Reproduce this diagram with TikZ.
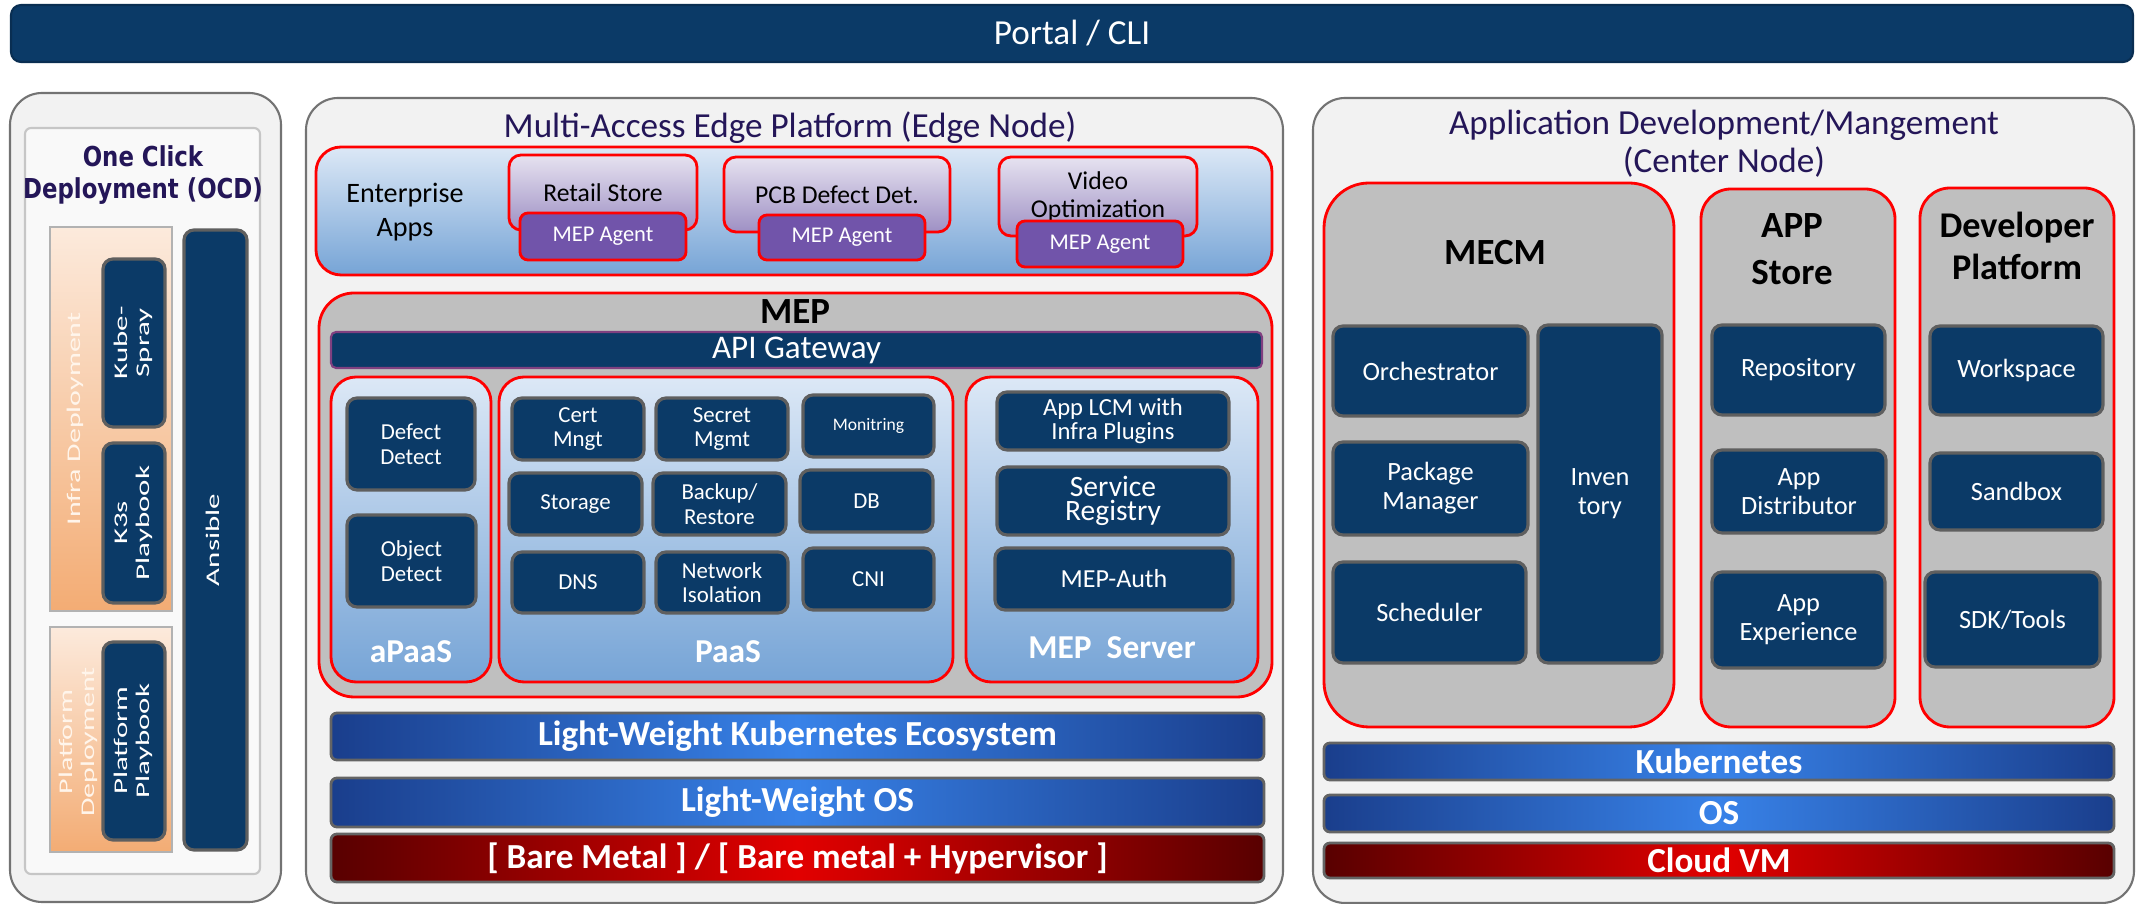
\documentclass[tikz,border=0pt]{standalone}
\usepackage{fontspec}
\setmainfont{Carlito}
\newfontfamily\verdfont{DejaVu Sans}

\definecolor{navy}{RGB}{11,58,103}
\definecolor{boxrim}{RGB}{95,95,95}
\definecolor{panelgray}{RGB}{242,242,242}
\definecolor{panelline}{RGB}{115,115,115}
\definecolor{mecgray}{RGB}{191,191,191}
\definecolor{ttlpurple}{RGB}{36,22,88}
\definecolor{skytop}{RGB}{220,232,246}
\definecolor{skybot}{RGB}{118,164,214}
\definecolor{liltop}{RGB}{230,226,240}
\definecolor{lilbot}{RGB}{158,144,196}
\definecolor{agent}{RGB}{113,84,170}
\definecolor{barout}{RGB}{26,62,140}
\definecolor{barmid}{RGB}{56,130,232}
\definecolor{barrim}{RGB}{100,100,100}
\definecolor{redout}{RGB}{88,0,0}
\definecolor{redmid}{RGB}{226,0,0}
\definecolor{peachtop}{RGB}{252,234,220}
\definecolor{peachbot}{RGB}{243,172,116}

\newcommand\fsz[2]{\fontsize{#1}{#2}\selectfont}
\newcommand\stretchx[2]{\scalebox{#1}[1]{\begin{tabular}{@{}c@{}}#2\end{tabular}}}
% box from its corners: style, name, x1, y1, x2, y2, text
\newcommand\blk[7]{%
  \node[#1,minimum width={(#5-#3)*0.01cm},minimum height={(#6-#4)*0.01cm}]
    (#2) at ({(#3+#5)/2},{(#4+#6)/2}) {#7};}

\tikzset{
  panel/.style={draw=panelline,fill=panelgray,line width=0.6pt,rounded corners=0.32cm},
  portal/.style={draw=navy!80!black,fill=navy,line width=0.6pt,rounded corners=0.1cm,text=white,font=\fsz{10}{12}},
  navybox/.style={fill=navy,draw=boxrim,line width=0.9pt,rounded corners=0.1cm,text=white,align=center,font=\fsz{6.5}{7}},
  navybig/.style={navybox,font=\fsz{7.5}{8.2}},
  skybox/.style={draw=red,line width=0.8pt,top color=skytop,bottom color=skybot,rounded corners=0.25cm},
  greybox/.style={draw=red,line width=0.8pt,fill=mecgray,rounded corners=#1},
  appbox/.style={draw=red,line width=0.8pt,top color=liltop,bottom color=lilbot,rounded corners=0.12cm,align=center,font=\fsz{7.3}{8}},
  agentbox/.style={draw=red,line width=0.8pt,fill=agent,rounded corners=0.08cm,text=white,font=\fsz{6.4}{7}},
  gatebar/.style={draw=violet!50!gray,line width=0.6pt,fill=navy,rounded corners=0.05cm,text=white,font=\fsz{9.4}{11}},
  layer/.style 2 args={draw=barrim,line width=0.8pt,left color=#1,right color=#1,middle color=#2,rounded corners=0.06cm,text=white,font=\fsz{10}{12}\bfseries},
  peachbox/.style={draw=gray!60,line width=0.5pt,top color=peachtop,bottom color=peachbot},
  ocdinner/.style={draw=gray!45,line width=0.6pt,fill=white!55!panelgray,rounded corners=0.06cm},
  ttl/.style={text=ttlpurple,align=center,font=\fsz{10}{10.8}},
  hdr/.style={text=black,align=center,font=\fsz{10.5}{13.4}\bfseries},
  sublbl/.style={text=white,font=\fsz{9.5}{11}\bfseries},
  sidetxt/.style={text=white,rotate=90,font=\fsz{5.5}{6.2}},
}

\begin{document}
\begin{tikzpicture}[x=0.01cm,y=-0.01cm,every node/.style={inner sep=0pt,outer sep=0pt}]
\useasboundingbox (0,0) rectangle (2141,904);

\blk{portal}{portal}{11}{5}{2133}{62}{Portal / CLI}

% one click deployment
\blk{panel}{ocdpanel}{10}{93}{281}{902}{}
\blk{ocdinner}{ocd}{25}{128}{260}{874}{}
\node[text=ttlpurple,font=\verdfont\fsz{6.5}{7.6}\bfseries] (ocdtitle) at (143,176)
  {\scalebox{1}[1.2]{\begin{tabular}{@{}c@{}}One Click\\Deployment (OCD)\end{tabular}}};
\blk{peachbox}{infra}{50}{227}{172}{611}{}
\blk{peachbox}{pfdep}{50}{627}{172}{852}{}
\node[sidetxt,text=white!92!orange] (infralbl) at (76,419) {\stretchx{1.55}{Infra Deployment}};
\node[sidetxt,text=white!92!orange] (pfdeplbl) at (79,742) {\stretchx{1.55}{Platform\\Deployment}};
\foreach \nm/\xa/\ya/\xb/\yb/\txt in {kube/103/259/165/427/{Kube-\\Spray},
    kthree/103/443/165/603/{K3s\\Playbook}, pfbook/103/642/165/840/{Platform\\Playbook},
    ansible/184/230/247/850/Ansible}{
  \blk{navybox}{\nm}{\xa}{\ya}{\xb}{\yb}{}
  \node[sidetxt] (\nm txt) at (\nm) {\stretchx{1.6}{\txt}};
}

% edge node
\blk{panel}{mecpanel}{306}{98}{1283}{903}{}
\node[ttl] (mectitle) at (790,128) {Multi-Access Edge Platform (Edge Node)};
\blk{skybox}{entapps}{316}{147}{1272}{275}{}
\node[align=center,font=\fsz{8}{9.5}] (entlbl) at (405,212) {Enterprise\\Apps};
\blk{appbox}{retail}{509}{155}{697}{230}{Retail Store}
\blk{appbox}{pcb}{724}{157}{950}{232}{PCB Defect Det.}
\blk{appbox}{video}{999}{157}{1197}{236}{Video\\Optimization}
\blk{agentbox}{agent1}{520}{213}{686}{260}{MEP Agent}
\blk{agentbox}{agent2}{759}{215}{925}{260}{MEP Agent}
\blk{agentbox}{agent3}{1017}{221}{1183}{267}{MEP Agent}

\blk{greybox=0.35cm}{mep}{319}{293}{1272}{697}{}
\node[hdr] (meplbl) at (795,312) {MEP};
\blk{gatebar}{apigw}{331}{332}{1262}{368}{API Gateway}
\blk{skybox}{apaas}{331}{377}{491}{682}{}
\blk{skybox}{paas}{499}{377}{953}{682}{}
\blk{skybox}{mepsrv}{966}{377}{1258}{682}{}
\node[sublbl] (apaaslbl) at (411,652) {aPaaS};
\node[sublbl] (paaslbl) at (728,652) {PaaS};
\node[sublbl] (mepsrvlbl) at (1112,648) {MEP\ \ Server};
\foreach \nm/\xa/\ya/\xb/\yb/\txt in {defect/347/398/475/490/{Defect\\Detect},
    object/347/515/476/607/{Object\\Detect},
    cert/512/398/644/460/{Cert\\Mngt}, secret/656/398/788/460/{Secret\\Mgmt},
    monit/803/395/934/457/{\fsz{5}{6}Monitring},
    storage/509/473/642/535/Storage, backup/653/473/786/535/{Backup/\\Restore},
    db/800/470/933/532/DB,
    dns/512/552/644/613/DNS, netiso/656/552/788/613/{Network\\Isolation},
    cni/803/548/934/610/CNI,
    applcm/997/392/1229/450/{\fsz{7}{7.6}App LCM with\\\fsz{7}{7.6}Infra Plugins},
    svcreg/997/467/1229/535/{\fsz{8.4}{9.6}Service\\\fsz{8.4}{9.6}Registry},
    mepauth/995/548/1233/610/{\fsz{7.4}{8}MEP-Auth}}{
  \blk{navybox}{\nm}{\xa}{\ya}{\xb}{\yb}{\txt}
}
\blk{layer={barout}{barmid}}{lwk}{331}{713}{1264}{760}{Light-Weight Kubernetes Ecosystem}
\blk{layer={barout}{barmid}}{lwos}{331}{778}{1264}{827}{Light-Weight OS}
\blk{layer={redout}{redmid}}{bm}{331}{834}{1264}{882}{[ Bare Metal ] / [ Bare metal + Hypervisor ]}

% center node
\blk{panel}{adpanel}{1313}{98}{2134}{903}{}
\node[ttl] (adtitle) at (1724,144) {Application Development/Mangement\\(Center Node)};
\blk{greybox=0.45cm}{mecm}{1324}{183}{1674}{727}{}
\blk{greybox=0.3cm}{appstore}{1701}{189}{1895}{727}{}
\blk{greybox=0.3cm}{devplat}{1920}{188}{2114}{727}{}
\node[hdr] (mecmlbl) at (1495,253) {MECM};
\node[hdr] (appstorelbl) at (1792,249) {APP\\Store};
\node[hdr,font=\fsz{10.3}{12}\bfseries] (devplatlbl) at (2017,246) {Developer\\Platform};
\foreach \nm/\xa/\ya/\xb/\yb/\txt in {orch/1333/326/1528/416/Orchestrator,
    pkg/1333/442/1528/535/{Package\\Manager}, sched/1333/562/1526/663/Scheduler,
    inv/1538/325/1662/663/{Inven\\tory},
    repo/1712/325/1885/415/Repository, dist/1712/450/1886/533/{App\\Distributor},
    exp/1712/572/1885/668/{App\\Experience},
    work/1930/326/2103/415/Workspace, sand/1930/453/2103/530/Sandbox,
    sdk/1925/572/2100/667/{SDK/Tools}}{
  \blk{navybig}{\nm}{\xa}{\ya}{\xb}{\yb}{\txt}
}
\blk{layer={barout}{barmid}}{k8s}{1324}{743}{2114}{780}{Kubernetes}
\blk{layer={barout}{barmid}}{os}{1324}{795}{2114}{832}{OS}
\blk{layer={redout}{redmid}}{cloudvm}{1324}{843}{2114}{878}{Cloud VM}
\end{tikzpicture}
\end{document}
